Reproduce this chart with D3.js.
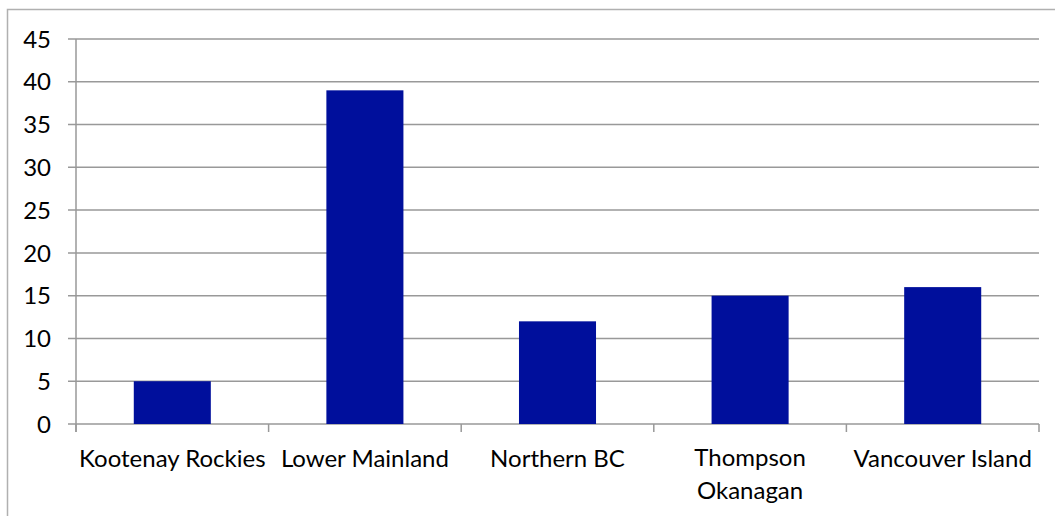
<!DOCTYPE html>
<html>
<head>
<meta charset="utf-8">
<script src="https://cdn.jsdelivr.net/npm/d3@7"></script>
<style>
  body { margin: 0; background: #fff; }
  svg { display: block; font-family: Lato, "Open Sans", sans-serif; }
</style>
</head>
<body>
<svg id="chart" width="1055" height="516"></svg>
<script>
const categories = ["Kootenay Rockies", "Lower Mainland", "Northern BC", "Thompson Okanagan", "Vancouver Island"];
const values = [5, 39, 12, 15, 16];
const yTicks = [0, 5, 10, 15, 20, 25, 30, 35, 40, 45];

const svg = d3.select("#chart");
const plot = { left: 76, right: 1039, top: 39, bottom: 424 };
const grey = "#999";
const fontSize = 24;

// outer chart border (cut off at right/bottom like the source)
svg.append("rect")
    .attr("x", 7.5).attr("y", 9.5)
    .attr("width", 1100).attr("height", 600)
    .attr("fill", "none")
    .attr("stroke", "#b0b0b0")
    .attr("stroke-width", 1.5);

const x = d3.scaleBand()
    .domain(categories)
    .range([plot.left, plot.right])
    .paddingInner(0.6)
    .paddingOuter(0.3);

const y = d3.scaleLinear().domain([0, 45]).range([plot.bottom, plot.top]);

// gridlines + y ticks
svg.append("g").selectAll("line")
    .data(yTicks).enter()
    .append("line")
    .attr("x1", plot.left - 8).attr("x2", plot.right)
    .attr("y1", d => y(d)).attr("y2", d => y(d))
    .attr("stroke", grey)
    .attr("stroke-width", 1.5);

svg.append("g").selectAll("text")
    .data(yTicks).enter()
    .append("text")
    .attr("x", 51)
    .attr("y", d => y(d))
    .attr("dy", "0.36em")
    .attr("text-anchor", "end")
    .attr("font-size", fontSize)
    .attr("fill", "#000")
    .text(d => d);

// bars
svg.append("g").selectAll("rect")
    .data(values).enter()
    .append("rect")
    .attr("x", (d, i) => x(categories[i]))
    .attr("y", d => y(d))
    .attr("width", x.bandwidth())
    .attr("height", d => y(0) - y(d))
    .attr("fill", "#000f9c");

// axis lines
svg.append("line")
    .attr("x1", plot.left).attr("x2", plot.left)
    .attr("y1", plot.top).attr("y2", plot.bottom + 8)
    .attr("stroke", grey).attr("stroke-width", 1.5);

const slot = (plot.right - plot.left) / categories.length;
const boundaries = d3.range(categories.length + 1).map(i => plot.left + i * slot);
svg.append("g").selectAll("line")
    .data(boundaries).enter()
    .append("line")
    .attr("x1", d => d).attr("x2", d => d)
    .attr("y1", plot.bottom).attr("y2", plot.bottom + 8)
    .attr("stroke", grey).attr("stroke-width", 1.5);

// category labels (wrap when too wide)
const labels = svg.append("g").selectAll("text")
    .data(categories).enter()
    .append("text")
    .attr("x", d => x(d) + x.bandwidth() / 2)
    .attr("y", 467)
    .attr("text-anchor", "middle")
    .attr("font-size", fontSize)
    .attr("fill", "#000");

labels.each(function(d) {
    const t = d3.select(this);
    t.text(d);
    if (this.getComputedTextLength() > slot) {
        t.text(null).attr("y", 466);
        d.split(" ").forEach((w, i) => {
            t.append("tspan")
                .attr("x", t.attr("x"))
                .attr("dy", i === 0 ? 0 : 33)
                .text(w);
        });
    }
});
</script>
</body>
</html>
